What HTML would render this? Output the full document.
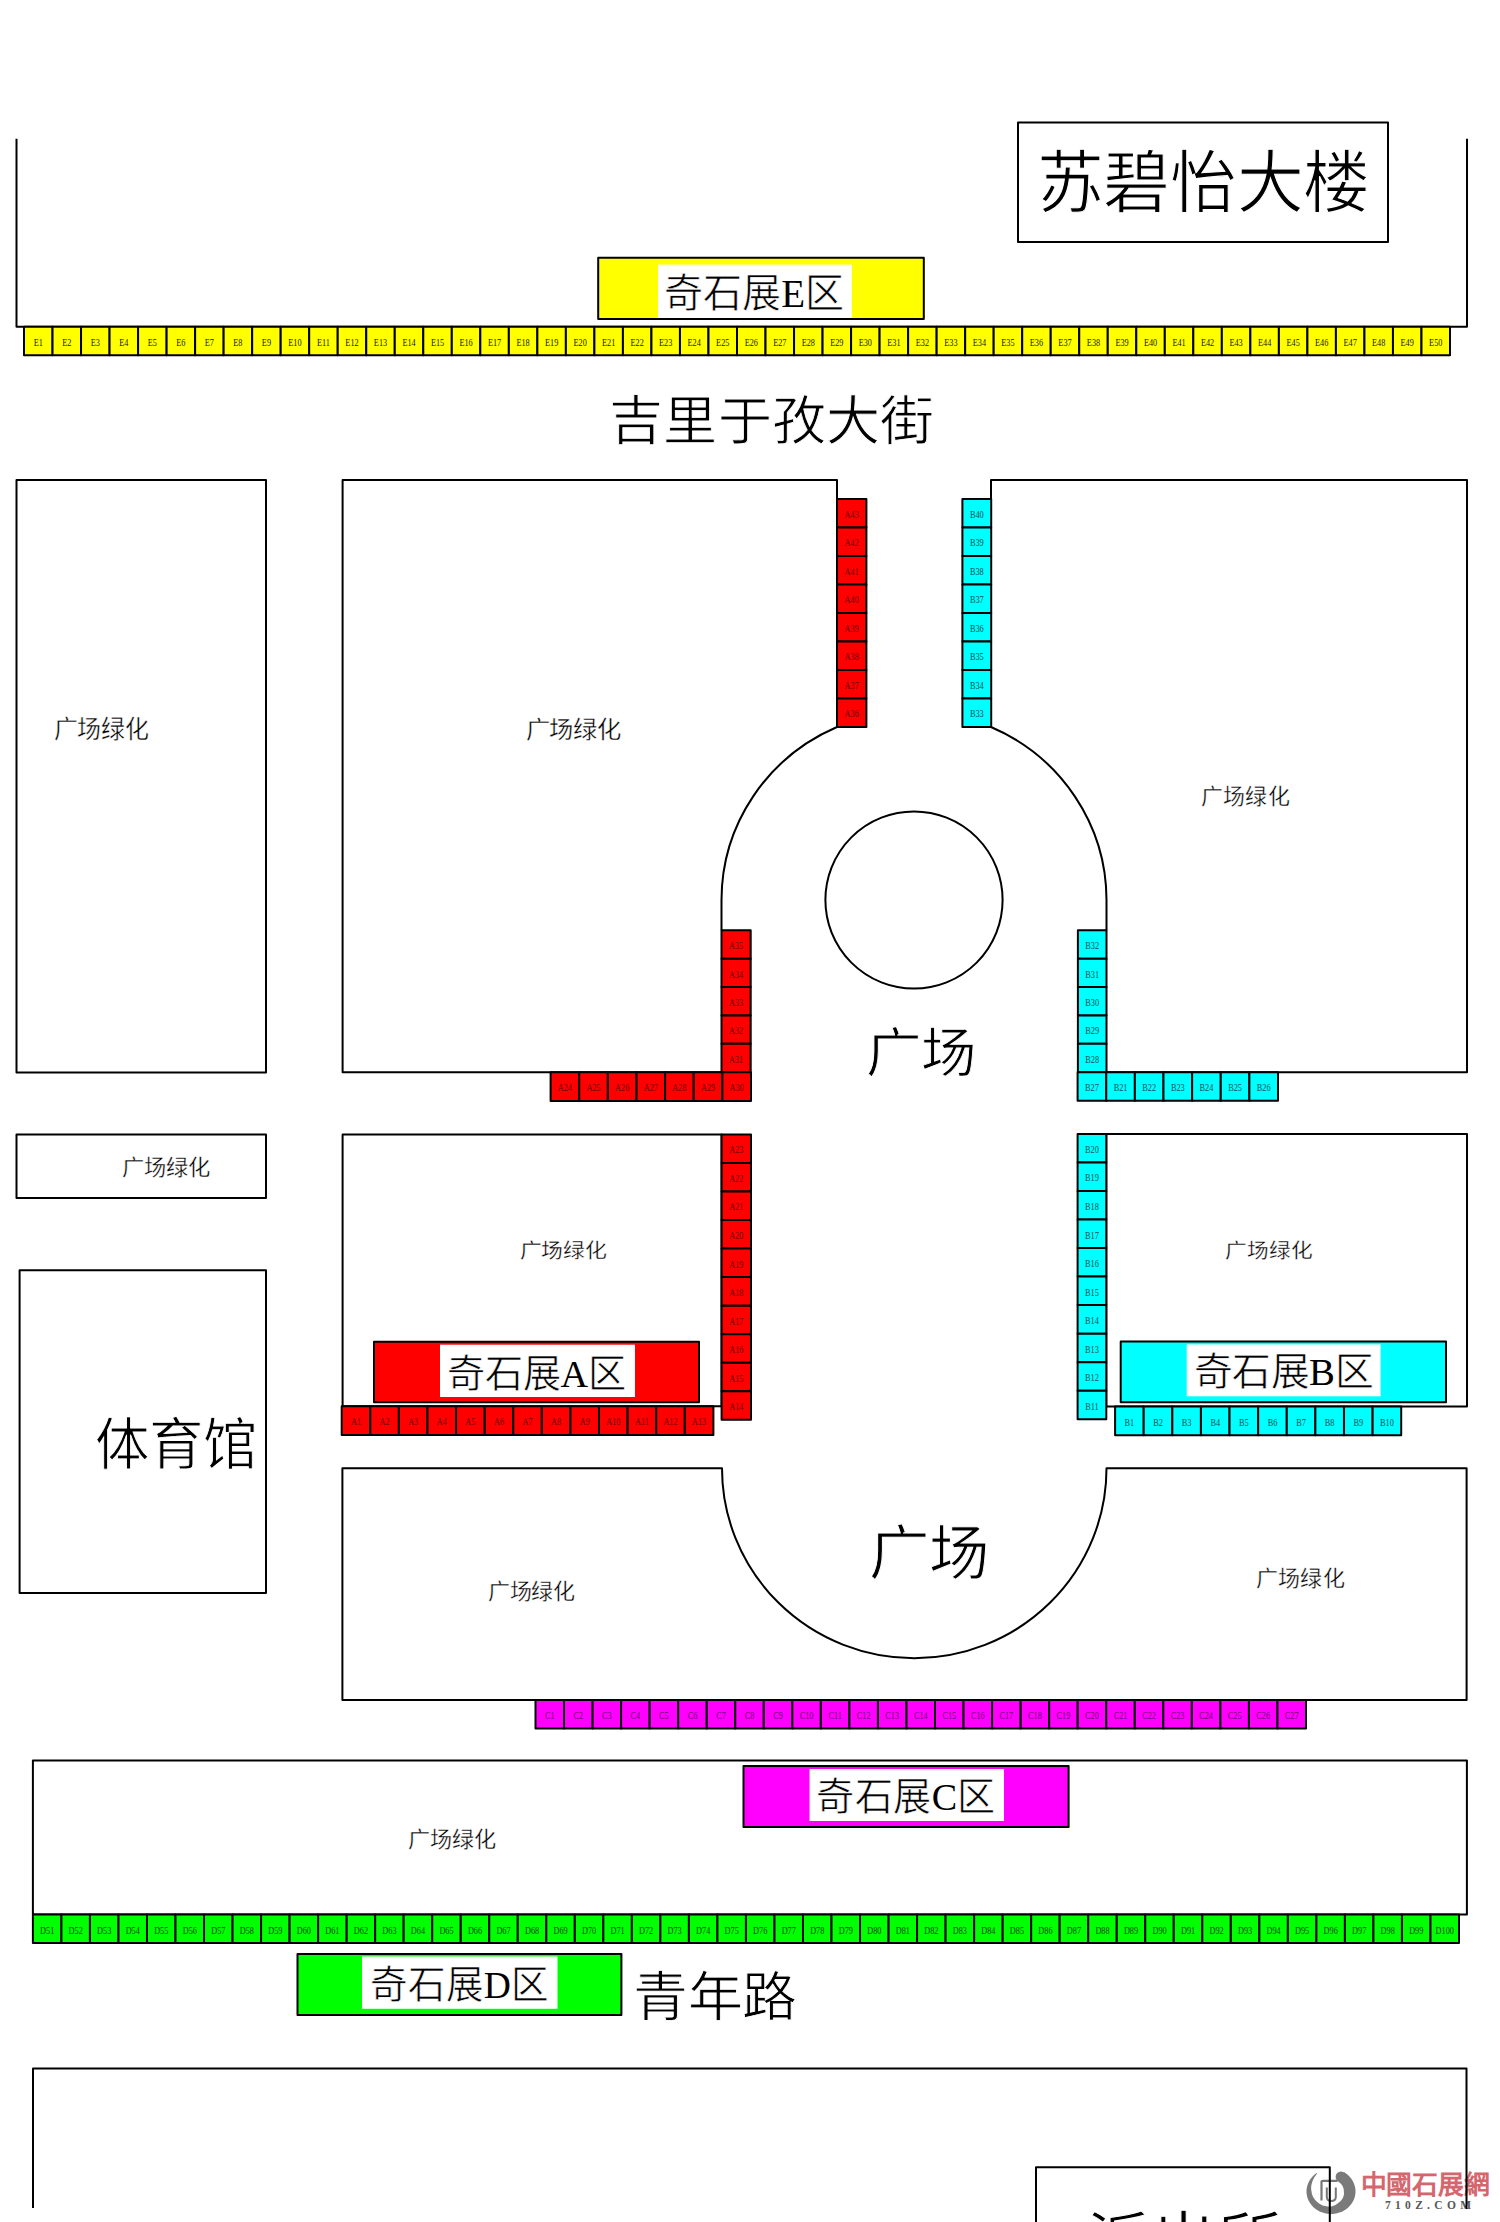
<!DOCTYPE html><html lang="zh-CN"><head><meta charset="utf-8"><title>map</title><style>html,body{margin:0;padding:0;background:#fff;width:1500px;height:2222px;overflow:hidden}svg{display:block;font-family:"Liberation Serif",serif}</style></head><body>
<svg width="1500" height="2222" viewBox="0 0 1500 2222">
<rect width="1500" height="2222" fill="#fff"/>
<path d="M1344.0 2172.2 L1345.4 2173.1 L1346.7 2174.1 L1348.0 2175.1 L1349.2 2176.3 L1350.3 2177.5 L1351.3 2178.8 L1352.2 2180.1 L1353.0 2181.5 L1353.7 2182.9 L1354.3 2184.4 L1354.8 2185.9 L1355.1 2187.5 L1355.4 2189.0 L1355.5 2190.6 L1355.5 2192.2 L1355.4 2193.8 L1355.1 2195.3 L1354.8 2196.9 L1354.3 2198.4 L1353.7 2199.9 L1353.0 2201.3 L1352.2 2202.7 L1351.3 2204.0 L1350.3 2205.3 L1349.2 2206.5 L1348.0 2207.7 L1346.7 2208.7 L1345.4 2209.7 L1344.0 2210.6 L1342.5 2211.4 L1341.0 2212.0 L1339.4 2212.6 L1337.8 2213.1 L1336.1 2213.5 L1334.4 2213.8 L1332.7 2213.9 L1331.0 2214.0 L1329.3 2213.9 L1327.6 2213.8 L1325.9 2213.5 L1324.2 2213.1 L1322.6 2212.6 L1321.0 2212.0 L1319.5 2211.4 L1318.0 2210.6 L1316.6 2209.7 L1315.3 2208.7 L1314.0 2207.7 L1312.8 2206.5 L1311.7 2205.3 L1310.7 2204.0 L1309.8 2202.7 L1309.0 2201.3 L1308.3 2199.9 L1307.7 2198.4 L1307.2 2196.9 L1306.9 2195.3 L1306.6 2193.8 L1306.5 2192.2 L1306.5 2190.6 L1306.6 2189.0 L1306.9 2187.5 L1307.2 2185.9 L1307.7 2184.4 L1308.3 2182.9 L1309.0 2181.5 L1309.8 2180.1 L1310.7 2178.8 L1311.7 2177.5 L1312.8 2176.3 L1314.0 2175.1 L1315.3 2174.1 L1316.6 2173.1 L1317.1 2173.8 L1316.0 2175.0 L1315.1 2176.3 L1314.2 2177.6 L1313.5 2178.9 L1312.9 2180.2 L1312.4 2181.6 L1311.9 2182.9 L1311.6 2184.3 L1311.3 2185.6 L1311.2 2186.9 L1311.1 2188.2 L1311.2 2189.5 L1311.4 2190.8 L1311.6 2192.0 L1311.8 2193.2 L1312.1 2194.4 L1312.5 2195.5 L1313.0 2196.7 L1313.6 2197.7 L1314.3 2198.7 L1315.0 2199.7 L1315.7 2200.6 L1316.6 2201.5 L1317.5 2202.3 L1318.4 2203.1 L1319.4 2203.7 L1320.5 2204.3 L1321.6 2204.9 L1322.7 2205.4 L1323.8 2205.7 L1325.0 2206.1 L1326.2 2206.3 L1327.4 2206.5 L1328.6 2206.6 L1329.8 2206.6 L1331.0 2206.5 L1332.2 2206.2 L1333.3 2205.8 L1334.4 2205.4 L1335.4 2204.9 L1336.4 2204.3 L1337.3 2203.7 L1338.1 2203.1 L1338.9 2202.4 L1339.7 2201.8 L1340.4 2201.2 L1341.1 2200.5 L1341.7 2199.7 L1342.2 2199.0 L1342.6 2198.2 L1343.0 2197.4 L1343.4 2196.6 L1343.6 2195.8 L1343.8 2195.0 L1343.9 2194.2 L1344.0 2193.4 L1343.9 2192.6 L1343.9 2191.8 L1343.8 2191.0 L1343.8 2190.3 L1343.7 2189.5 L1343.6 2188.7 L1343.3 2188.0 L1343.1 2187.2 L1342.8 2186.5 L1342.4 2185.8 L1341.9 2185.1 L1341.4 2184.4 L1340.9 2183.8 L1340.3 2183.2 L1339.6 2182.6 L1338.9 2182.1 L1338.2 2181.6 Z" fill="#7a7a7a"/>
<circle cx="1341.1" cy="2176.9" r="5.5" fill="#7a7a7a"/>
<path d="M1321.5 2200.5 V2181.5 Q1321.5 2180.8 1323 2180.8 H1337.5" fill="none" stroke="#777" stroke-width="2.2"/>
<path d="M1326.8 2187.5 V2197 Q1327 2201 1331.2 2201 Q1335.8 2201 1335.8 2197 V2187.5" fill="none" stroke="#777" stroke-width="2"/>
<text x="1360.5" y="2193.5" font-size="26" fill="#d4666e" font-weight="bold" textLength="129" lengthAdjust="spacingAndGlyphs">中國石展網</text>
<text x="1385" y="2208.8" font-size="11.5" fill="#585858" font-weight="bold" textLength="86" lengthAdjust="spacing">710Z.COM</text>
<g fill="none" stroke="#000" stroke-width="2" stroke-linejoin="round">
<path d="M16.5 138.7 V326.7 H1467 V138.7"/>
<rect x="1018" y="122.5" width="370" height="119.5"/>
<rect x="16.5" y="480" width="249.5" height="592.6"/>
<rect x="16.5" y="1134.5" width="249.5" height="63.5"/>
<rect x="19.6" y="1270.2" width="246.4" height="322.7"/>
<path d="M721.5 930.3 V900 A192.5 189 0 0 1 837 727 V480 H342.6 V1072.3 H721.5"/>
<path d="M1106.5 930.3 V900 A192.5 189 0 0 0 991 727 V480 H1467 V1072.2 H1106.5"/>
<circle cx="914" cy="900" r="88.6"/>
<rect x="342.6" y="1134.4" width="379" height="271.9"/>
<rect x="1106.3" y="1134" width="360.7" height="272.6"/>
<path d="M342.4 1468.2 H722 A192.25 190 0 0 0 1106.5 1468.2 H1466.6 V1700 H342.4 Z"/>
<rect x="32.9" y="1760.5" width="1434" height="154.1"/>
<path d="M33 2208 V2068.5 H1466.5 V2209"/>
<rect x="1036" y="2167.2" width="293.8" height="100"/>
</g>
<rect x="598.2" y="257.7" width="325.6" height="61.3" fill="#ffff00" stroke="#000" stroke-width="2" stroke-linejoin="round"/><rect x="658" y="264.6" width="193.8" height="53.4" fill="#fff"/>
<rect x="374" y="1341.8" width="325.0" height="60.4" fill="#ff0000" stroke="#000" stroke-width="2" stroke-linejoin="round"/><rect x="440" y="1344.7" width="195.0" height="52.3" fill="#fff"/>
<rect x="1120.7" y="1341.5" width="325.3" height="60.7" fill="#00ffff" stroke="#000" stroke-width="2" stroke-linejoin="round"/><rect x="1186.7" y="1344.4" width="193.9" height="51.9" fill="#fff"/>
<rect x="743.5" y="1766" width="325.1" height="61.0" fill="#ff00ff" stroke="#000" stroke-width="2" stroke-linejoin="round"/><rect x="809.5" y="1769" width="194.5" height="52.0" fill="#fff"/>
<rect x="297.5" y="1954" width="323.9" height="61.0" fill="#00ff00" stroke="#000" stroke-width="2" stroke-linejoin="round"/><rect x="362" y="1956.5" width="195.5" height="52.3" fill="#fff"/>
<rect x="24.00" y="326.70" width="28.52" height="28.50" fill="#ffff00" stroke="#000" stroke-width="2" stroke-linejoin="round"/>
<rect x="52.52" y="326.70" width="28.52" height="28.50" fill="#ffff00" stroke="#000" stroke-width="2" stroke-linejoin="round"/>
<rect x="81.04" y="326.70" width="28.52" height="28.50" fill="#ffff00" stroke="#000" stroke-width="2" stroke-linejoin="round"/>
<rect x="109.56" y="326.70" width="28.52" height="28.50" fill="#ffff00" stroke="#000" stroke-width="2" stroke-linejoin="round"/>
<rect x="138.08" y="326.70" width="28.52" height="28.50" fill="#ffff00" stroke="#000" stroke-width="2" stroke-linejoin="round"/>
<rect x="166.60" y="326.70" width="28.52" height="28.50" fill="#ffff00" stroke="#000" stroke-width="2" stroke-linejoin="round"/>
<rect x="195.12" y="326.70" width="28.52" height="28.50" fill="#ffff00" stroke="#000" stroke-width="2" stroke-linejoin="round"/>
<rect x="223.64" y="326.70" width="28.52" height="28.50" fill="#ffff00" stroke="#000" stroke-width="2" stroke-linejoin="round"/>
<rect x="252.16" y="326.70" width="28.52" height="28.50" fill="#ffff00" stroke="#000" stroke-width="2" stroke-linejoin="round"/>
<rect x="280.68" y="326.70" width="28.52" height="28.50" fill="#ffff00" stroke="#000" stroke-width="2" stroke-linejoin="round"/>
<rect x="309.20" y="326.70" width="28.52" height="28.50" fill="#ffff00" stroke="#000" stroke-width="2" stroke-linejoin="round"/>
<rect x="337.72" y="326.70" width="28.52" height="28.50" fill="#ffff00" stroke="#000" stroke-width="2" stroke-linejoin="round"/>
<rect x="366.24" y="326.70" width="28.52" height="28.50" fill="#ffff00" stroke="#000" stroke-width="2" stroke-linejoin="round"/>
<rect x="394.76" y="326.70" width="28.52" height="28.50" fill="#ffff00" stroke="#000" stroke-width="2" stroke-linejoin="round"/>
<rect x="423.28" y="326.70" width="28.52" height="28.50" fill="#ffff00" stroke="#000" stroke-width="2" stroke-linejoin="round"/>
<rect x="451.80" y="326.70" width="28.52" height="28.50" fill="#ffff00" stroke="#000" stroke-width="2" stroke-linejoin="round"/>
<rect x="480.32" y="326.70" width="28.52" height="28.50" fill="#ffff00" stroke="#000" stroke-width="2" stroke-linejoin="round"/>
<rect x="508.84" y="326.70" width="28.52" height="28.50" fill="#ffff00" stroke="#000" stroke-width="2" stroke-linejoin="round"/>
<rect x="537.36" y="326.70" width="28.52" height="28.50" fill="#ffff00" stroke="#000" stroke-width="2" stroke-linejoin="round"/>
<rect x="565.88" y="326.70" width="28.52" height="28.50" fill="#ffff00" stroke="#000" stroke-width="2" stroke-linejoin="round"/>
<rect x="594.40" y="326.70" width="28.52" height="28.50" fill="#ffff00" stroke="#000" stroke-width="2" stroke-linejoin="round"/>
<rect x="622.92" y="326.70" width="28.52" height="28.50" fill="#ffff00" stroke="#000" stroke-width="2" stroke-linejoin="round"/>
<rect x="651.44" y="326.70" width="28.52" height="28.50" fill="#ffff00" stroke="#000" stroke-width="2" stroke-linejoin="round"/>
<rect x="679.96" y="326.70" width="28.52" height="28.50" fill="#ffff00" stroke="#000" stroke-width="2" stroke-linejoin="round"/>
<rect x="708.48" y="326.70" width="28.52" height="28.50" fill="#ffff00" stroke="#000" stroke-width="2" stroke-linejoin="round"/>
<rect x="737.00" y="326.70" width="28.52" height="28.50" fill="#ffff00" stroke="#000" stroke-width="2" stroke-linejoin="round"/>
<rect x="765.52" y="326.70" width="28.52" height="28.50" fill="#ffff00" stroke="#000" stroke-width="2" stroke-linejoin="round"/>
<rect x="794.04" y="326.70" width="28.52" height="28.50" fill="#ffff00" stroke="#000" stroke-width="2" stroke-linejoin="round"/>
<rect x="822.56" y="326.70" width="28.52" height="28.50" fill="#ffff00" stroke="#000" stroke-width="2" stroke-linejoin="round"/>
<rect x="851.08" y="326.70" width="28.52" height="28.50" fill="#ffff00" stroke="#000" stroke-width="2" stroke-linejoin="round"/>
<rect x="879.60" y="326.70" width="28.52" height="28.50" fill="#ffff00" stroke="#000" stroke-width="2" stroke-linejoin="round"/>
<rect x="908.12" y="326.70" width="28.52" height="28.50" fill="#ffff00" stroke="#000" stroke-width="2" stroke-linejoin="round"/>
<rect x="936.64" y="326.70" width="28.52" height="28.50" fill="#ffff00" stroke="#000" stroke-width="2" stroke-linejoin="round"/>
<rect x="965.16" y="326.70" width="28.52" height="28.50" fill="#ffff00" stroke="#000" stroke-width="2" stroke-linejoin="round"/>
<rect x="993.68" y="326.70" width="28.52" height="28.50" fill="#ffff00" stroke="#000" stroke-width="2" stroke-linejoin="round"/>
<rect x="1022.20" y="326.70" width="28.52" height="28.50" fill="#ffff00" stroke="#000" stroke-width="2" stroke-linejoin="round"/>
<rect x="1050.72" y="326.70" width="28.52" height="28.50" fill="#ffff00" stroke="#000" stroke-width="2" stroke-linejoin="round"/>
<rect x="1079.24" y="326.70" width="28.52" height="28.50" fill="#ffff00" stroke="#000" stroke-width="2" stroke-linejoin="round"/>
<rect x="1107.76" y="326.70" width="28.52" height="28.50" fill="#ffff00" stroke="#000" stroke-width="2" stroke-linejoin="round"/>
<rect x="1136.28" y="326.70" width="28.52" height="28.50" fill="#ffff00" stroke="#000" stroke-width="2" stroke-linejoin="round"/>
<rect x="1164.80" y="326.70" width="28.52" height="28.50" fill="#ffff00" stroke="#000" stroke-width="2" stroke-linejoin="round"/>
<rect x="1193.32" y="326.70" width="28.52" height="28.50" fill="#ffff00" stroke="#000" stroke-width="2" stroke-linejoin="round"/>
<rect x="1221.84" y="326.70" width="28.52" height="28.50" fill="#ffff00" stroke="#000" stroke-width="2" stroke-linejoin="round"/>
<rect x="1250.36" y="326.70" width="28.52" height="28.50" fill="#ffff00" stroke="#000" stroke-width="2" stroke-linejoin="round"/>
<rect x="1278.88" y="326.70" width="28.52" height="28.50" fill="#ffff00" stroke="#000" stroke-width="2" stroke-linejoin="round"/>
<rect x="1307.40" y="326.70" width="28.52" height="28.50" fill="#ffff00" stroke="#000" stroke-width="2" stroke-linejoin="round"/>
<rect x="1335.92" y="326.70" width="28.52" height="28.50" fill="#ffff00" stroke="#000" stroke-width="2" stroke-linejoin="round"/>
<rect x="1364.44" y="326.70" width="28.52" height="28.50" fill="#ffff00" stroke="#000" stroke-width="2" stroke-linejoin="round"/>
<rect x="1392.96" y="326.70" width="28.52" height="28.50" fill="#ffff00" stroke="#000" stroke-width="2" stroke-linejoin="round"/>
<rect x="1421.48" y="326.70" width="28.52" height="28.50" fill="#ffff00" stroke="#000" stroke-width="2" stroke-linejoin="round"/>
<text transform="translate(38.26,345.65) scale(0.73,1)" fill="#1a1800" font-size="11.3" text-anchor="middle">E1</text>
<text transform="translate(66.78,345.65) scale(0.73,1)" fill="#1a1800" font-size="11.3" text-anchor="middle">E2</text>
<text transform="translate(95.30,345.65) scale(0.73,1)" fill="#1a1800" font-size="11.3" text-anchor="middle">E3</text>
<text transform="translate(123.82,345.65) scale(0.73,1)" fill="#1a1800" font-size="11.3" text-anchor="middle">E4</text>
<text transform="translate(152.34,345.65) scale(0.73,1)" fill="#1a1800" font-size="11.3" text-anchor="middle">E5</text>
<text transform="translate(180.86,345.65) scale(0.73,1)" fill="#1a1800" font-size="11.3" text-anchor="middle">E6</text>
<text transform="translate(209.38,345.65) scale(0.73,1)" fill="#1a1800" font-size="11.3" text-anchor="middle">E7</text>
<text transform="translate(237.90,345.65) scale(0.73,1)" fill="#1a1800" font-size="11.3" text-anchor="middle">E8</text>
<text transform="translate(266.42,345.65) scale(0.73,1)" fill="#1a1800" font-size="11.3" text-anchor="middle">E9</text>
<text transform="translate(294.94,345.65) scale(0.73,1)" fill="#1a1800" font-size="11.3" text-anchor="middle">E10</text>
<text transform="translate(323.46,345.65) scale(0.73,1)" fill="#1a1800" font-size="11.3" text-anchor="middle">E11</text>
<text transform="translate(351.98,345.65) scale(0.73,1)" fill="#1a1800" font-size="11.3" text-anchor="middle">E12</text>
<text transform="translate(380.50,345.65) scale(0.73,1)" fill="#1a1800" font-size="11.3" text-anchor="middle">E13</text>
<text transform="translate(409.02,345.65) scale(0.73,1)" fill="#1a1800" font-size="11.3" text-anchor="middle">E14</text>
<text transform="translate(437.54,345.65) scale(0.73,1)" fill="#1a1800" font-size="11.3" text-anchor="middle">E15</text>
<text transform="translate(466.06,345.65) scale(0.73,1)" fill="#1a1800" font-size="11.3" text-anchor="middle">E16</text>
<text transform="translate(494.58,345.65) scale(0.73,1)" fill="#1a1800" font-size="11.3" text-anchor="middle">E17</text>
<text transform="translate(523.10,345.65) scale(0.73,1)" fill="#1a1800" font-size="11.3" text-anchor="middle">E18</text>
<text transform="translate(551.62,345.65) scale(0.73,1)" fill="#1a1800" font-size="11.3" text-anchor="middle">E19</text>
<text transform="translate(580.14,345.65) scale(0.73,1)" fill="#1a1800" font-size="11.3" text-anchor="middle">E20</text>
<text transform="translate(608.66,345.65) scale(0.73,1)" fill="#1a1800" font-size="11.3" text-anchor="middle">E21</text>
<text transform="translate(637.18,345.65) scale(0.73,1)" fill="#1a1800" font-size="11.3" text-anchor="middle">E22</text>
<text transform="translate(665.70,345.65) scale(0.73,1)" fill="#1a1800" font-size="11.3" text-anchor="middle">E23</text>
<text transform="translate(694.22,345.65) scale(0.73,1)" fill="#1a1800" font-size="11.3" text-anchor="middle">E24</text>
<text transform="translate(722.74,345.65) scale(0.73,1)" fill="#1a1800" font-size="11.3" text-anchor="middle">E25</text>
<text transform="translate(751.26,345.65) scale(0.73,1)" fill="#1a1800" font-size="11.3" text-anchor="middle">E26</text>
<text transform="translate(779.78,345.65) scale(0.73,1)" fill="#1a1800" font-size="11.3" text-anchor="middle">E27</text>
<text transform="translate(808.30,345.65) scale(0.73,1)" fill="#1a1800" font-size="11.3" text-anchor="middle">E28</text>
<text transform="translate(836.82,345.65) scale(0.73,1)" fill="#1a1800" font-size="11.3" text-anchor="middle">E29</text>
<text transform="translate(865.34,345.65) scale(0.73,1)" fill="#1a1800" font-size="11.3" text-anchor="middle">E30</text>
<text transform="translate(893.86,345.65) scale(0.73,1)" fill="#1a1800" font-size="11.3" text-anchor="middle">E31</text>
<text transform="translate(922.38,345.65) scale(0.73,1)" fill="#1a1800" font-size="11.3" text-anchor="middle">E32</text>
<text transform="translate(950.90,345.65) scale(0.73,1)" fill="#1a1800" font-size="11.3" text-anchor="middle">E33</text>
<text transform="translate(979.42,345.65) scale(0.73,1)" fill="#1a1800" font-size="11.3" text-anchor="middle">E34</text>
<text transform="translate(1007.94,345.65) scale(0.73,1)" fill="#1a1800" font-size="11.3" text-anchor="middle">E35</text>
<text transform="translate(1036.46,345.65) scale(0.73,1)" fill="#1a1800" font-size="11.3" text-anchor="middle">E36</text>
<text transform="translate(1064.98,345.65) scale(0.73,1)" fill="#1a1800" font-size="11.3" text-anchor="middle">E37</text>
<text transform="translate(1093.50,345.65) scale(0.73,1)" fill="#1a1800" font-size="11.3" text-anchor="middle">E38</text>
<text transform="translate(1122.02,345.65) scale(0.73,1)" fill="#1a1800" font-size="11.3" text-anchor="middle">E39</text>
<text transform="translate(1150.54,345.65) scale(0.73,1)" fill="#1a1800" font-size="11.3" text-anchor="middle">E40</text>
<text transform="translate(1179.06,345.65) scale(0.73,1)" fill="#1a1800" font-size="11.3" text-anchor="middle">E41</text>
<text transform="translate(1207.58,345.65) scale(0.73,1)" fill="#1a1800" font-size="11.3" text-anchor="middle">E42</text>
<text transform="translate(1236.10,345.65) scale(0.73,1)" fill="#1a1800" font-size="11.3" text-anchor="middle">E43</text>
<text transform="translate(1264.62,345.65) scale(0.73,1)" fill="#1a1800" font-size="11.3" text-anchor="middle">E44</text>
<text transform="translate(1293.14,345.65) scale(0.73,1)" fill="#1a1800" font-size="11.3" text-anchor="middle">E45</text>
<text transform="translate(1321.66,345.65) scale(0.73,1)" fill="#1a1800" font-size="11.3" text-anchor="middle">E46</text>
<text transform="translate(1350.18,345.65) scale(0.73,1)" fill="#1a1800" font-size="11.3" text-anchor="middle">E47</text>
<text transform="translate(1378.70,345.65) scale(0.73,1)" fill="#1a1800" font-size="11.3" text-anchor="middle">E48</text>
<text transform="translate(1407.22,345.65) scale(0.73,1)" fill="#1a1800" font-size="11.3" text-anchor="middle">E49</text>
<text transform="translate(1435.74,345.65) scale(0.73,1)" fill="#1a1800" font-size="11.3" text-anchor="middle">E50</text>
<rect x="837.00" y="499.00" width="29.40" height="28.50" fill="#ff0000" stroke="#000" stroke-width="2" stroke-linejoin="round"/>
<rect x="837.00" y="527.50" width="29.40" height="28.50" fill="#ff0000" stroke="#000" stroke-width="2" stroke-linejoin="round"/>
<rect x="837.00" y="556.00" width="29.40" height="28.50" fill="#ff0000" stroke="#000" stroke-width="2" stroke-linejoin="round"/>
<rect x="837.00" y="584.50" width="29.40" height="28.50" fill="#ff0000" stroke="#000" stroke-width="2" stroke-linejoin="round"/>
<rect x="837.00" y="613.00" width="29.40" height="28.50" fill="#ff0000" stroke="#000" stroke-width="2" stroke-linejoin="round"/>
<rect x="837.00" y="641.50" width="29.40" height="28.50" fill="#ff0000" stroke="#000" stroke-width="2" stroke-linejoin="round"/>
<rect x="837.00" y="670.00" width="29.40" height="28.50" fill="#ff0000" stroke="#000" stroke-width="2" stroke-linejoin="round"/>
<rect x="837.00" y="698.50" width="29.40" height="28.50" fill="#ff0000" stroke="#000" stroke-width="2" stroke-linejoin="round"/>
<text transform="translate(851.70,517.95) scale(0.73,1)" fill="#6a0000" font-size="11.3" text-anchor="middle">A43</text>
<text transform="translate(851.70,546.45) scale(0.73,1)" fill="#6a0000" font-size="11.3" text-anchor="middle">A42</text>
<text transform="translate(851.70,574.95) scale(0.73,1)" fill="#6a0000" font-size="11.3" text-anchor="middle">A41</text>
<text transform="translate(851.70,603.45) scale(0.73,1)" fill="#6a0000" font-size="11.3" text-anchor="middle">A40</text>
<text transform="translate(851.70,631.95) scale(0.73,1)" fill="#6a0000" font-size="11.3" text-anchor="middle">A39</text>
<text transform="translate(851.70,660.45) scale(0.73,1)" fill="#6a0000" font-size="11.3" text-anchor="middle">A38</text>
<text transform="translate(851.70,688.95) scale(0.73,1)" fill="#6a0000" font-size="11.3" text-anchor="middle">A37</text>
<text transform="translate(851.70,717.45) scale(0.73,1)" fill="#6a0000" font-size="11.3" text-anchor="middle">A36</text>
<rect x="962.40" y="499.00" width="28.80" height="28.50" fill="#00ffff" stroke="#000" stroke-width="2" stroke-linejoin="round"/>
<rect x="962.40" y="527.50" width="28.80" height="28.50" fill="#00ffff" stroke="#000" stroke-width="2" stroke-linejoin="round"/>
<rect x="962.40" y="556.00" width="28.80" height="28.50" fill="#00ffff" stroke="#000" stroke-width="2" stroke-linejoin="round"/>
<rect x="962.40" y="584.50" width="28.80" height="28.50" fill="#00ffff" stroke="#000" stroke-width="2" stroke-linejoin="round"/>
<rect x="962.40" y="613.00" width="28.80" height="28.50" fill="#00ffff" stroke="#000" stroke-width="2" stroke-linejoin="round"/>
<rect x="962.40" y="641.50" width="28.80" height="28.50" fill="#00ffff" stroke="#000" stroke-width="2" stroke-linejoin="round"/>
<rect x="962.40" y="670.00" width="28.80" height="28.50" fill="#00ffff" stroke="#000" stroke-width="2" stroke-linejoin="round"/>
<rect x="962.40" y="698.50" width="28.80" height="28.50" fill="#00ffff" stroke="#000" stroke-width="2" stroke-linejoin="round"/>
<text transform="translate(976.80,517.95) scale(0.73,1)" fill="#004e4e" font-size="11.3" text-anchor="middle">B40</text>
<text transform="translate(976.80,546.45) scale(0.73,1)" fill="#004e4e" font-size="11.3" text-anchor="middle">B39</text>
<text transform="translate(976.80,574.95) scale(0.73,1)" fill="#004e4e" font-size="11.3" text-anchor="middle">B38</text>
<text transform="translate(976.80,603.45) scale(0.73,1)" fill="#004e4e" font-size="11.3" text-anchor="middle">B37</text>
<text transform="translate(976.80,631.95) scale(0.73,1)" fill="#004e4e" font-size="11.3" text-anchor="middle">B36</text>
<text transform="translate(976.80,660.45) scale(0.73,1)" fill="#004e4e" font-size="11.3" text-anchor="middle">B35</text>
<text transform="translate(976.80,688.95) scale(0.73,1)" fill="#004e4e" font-size="11.3" text-anchor="middle">B34</text>
<text transform="translate(976.80,717.45) scale(0.73,1)" fill="#004e4e" font-size="11.3" text-anchor="middle">B33</text>
<rect x="721.50" y="930.30" width="29.20" height="28.38" fill="#ff0000" stroke="#000" stroke-width="2" stroke-linejoin="round"/>
<rect x="721.50" y="958.68" width="29.20" height="28.38" fill="#ff0000" stroke="#000" stroke-width="2" stroke-linejoin="round"/>
<rect x="721.50" y="987.06" width="29.20" height="28.38" fill="#ff0000" stroke="#000" stroke-width="2" stroke-linejoin="round"/>
<rect x="721.50" y="1015.44" width="29.20" height="28.38" fill="#ff0000" stroke="#000" stroke-width="2" stroke-linejoin="round"/>
<rect x="721.50" y="1043.82" width="29.20" height="28.38" fill="#ff0000" stroke="#000" stroke-width="2" stroke-linejoin="round"/>
<text transform="translate(736.10,949.19) scale(0.73,1)" fill="#6a0000" font-size="11.3" text-anchor="middle">A35</text>
<text transform="translate(736.10,977.57) scale(0.73,1)" fill="#6a0000" font-size="11.3" text-anchor="middle">A34</text>
<text transform="translate(736.10,1005.95) scale(0.73,1)" fill="#6a0000" font-size="11.3" text-anchor="middle">A33</text>
<text transform="translate(736.10,1034.33) scale(0.73,1)" fill="#6a0000" font-size="11.3" text-anchor="middle">A32</text>
<text transform="translate(736.10,1062.71) scale(0.73,1)" fill="#6a0000" font-size="11.3" text-anchor="middle">A31</text>
<rect x="550.60" y="1072.20" width="28.63" height="28.80" fill="#ff0000" stroke="#000" stroke-width="2" stroke-linejoin="round"/>
<rect x="579.23" y="1072.20" width="28.63" height="28.80" fill="#ff0000" stroke="#000" stroke-width="2" stroke-linejoin="round"/>
<rect x="607.86" y="1072.20" width="28.63" height="28.80" fill="#ff0000" stroke="#000" stroke-width="2" stroke-linejoin="round"/>
<rect x="636.49" y="1072.20" width="28.63" height="28.80" fill="#ff0000" stroke="#000" stroke-width="2" stroke-linejoin="round"/>
<rect x="665.11" y="1072.20" width="28.63" height="28.80" fill="#ff0000" stroke="#000" stroke-width="2" stroke-linejoin="round"/>
<rect x="693.74" y="1072.20" width="28.63" height="28.80" fill="#ff0000" stroke="#000" stroke-width="2" stroke-linejoin="round"/>
<rect x="722.37" y="1072.20" width="28.63" height="28.80" fill="#ff0000" stroke="#000" stroke-width="2" stroke-linejoin="round"/>
<text transform="translate(564.91,1091.30) scale(0.73,1)" fill="#6a0000" font-size="11.3" text-anchor="middle">A24</text>
<text transform="translate(593.54,1091.30) scale(0.73,1)" fill="#6a0000" font-size="11.3" text-anchor="middle">A25</text>
<text transform="translate(622.17,1091.30) scale(0.73,1)" fill="#6a0000" font-size="11.3" text-anchor="middle">A26</text>
<text transform="translate(650.80,1091.30) scale(0.73,1)" fill="#6a0000" font-size="11.3" text-anchor="middle">A27</text>
<text transform="translate(679.43,1091.30) scale(0.73,1)" fill="#6a0000" font-size="11.3" text-anchor="middle">A28</text>
<text transform="translate(708.06,1091.30) scale(0.73,1)" fill="#6a0000" font-size="11.3" text-anchor="middle">A29</text>
<text transform="translate(736.69,1091.30) scale(0.73,1)" fill="#6a0000" font-size="11.3" text-anchor="middle">A30</text>
<rect x="1077.90" y="930.30" width="28.60" height="28.38" fill="#00ffff" stroke="#000" stroke-width="2" stroke-linejoin="round"/>
<rect x="1077.90" y="958.68" width="28.60" height="28.38" fill="#00ffff" stroke="#000" stroke-width="2" stroke-linejoin="round"/>
<rect x="1077.90" y="987.06" width="28.60" height="28.38" fill="#00ffff" stroke="#000" stroke-width="2" stroke-linejoin="round"/>
<rect x="1077.90" y="1015.44" width="28.60" height="28.38" fill="#00ffff" stroke="#000" stroke-width="2" stroke-linejoin="round"/>
<rect x="1077.90" y="1043.82" width="28.60" height="28.38" fill="#00ffff" stroke="#000" stroke-width="2" stroke-linejoin="round"/>
<text transform="translate(1092.20,949.19) scale(0.73,1)" fill="#004e4e" font-size="11.3" text-anchor="middle">B32</text>
<text transform="translate(1092.20,977.57) scale(0.73,1)" fill="#004e4e" font-size="11.3" text-anchor="middle">B31</text>
<text transform="translate(1092.20,1005.95) scale(0.73,1)" fill="#004e4e" font-size="11.3" text-anchor="middle">B30</text>
<text transform="translate(1092.20,1034.33) scale(0.73,1)" fill="#004e4e" font-size="11.3" text-anchor="middle">B29</text>
<text transform="translate(1092.20,1062.71) scale(0.73,1)" fill="#004e4e" font-size="11.3" text-anchor="middle">B28</text>
<rect x="1077.60" y="1072.20" width="28.63" height="28.50" fill="#00ffff" stroke="#000" stroke-width="2" stroke-linejoin="round"/>
<rect x="1106.23" y="1072.20" width="28.63" height="28.50" fill="#00ffff" stroke="#000" stroke-width="2" stroke-linejoin="round"/>
<rect x="1134.86" y="1072.20" width="28.63" height="28.50" fill="#00ffff" stroke="#000" stroke-width="2" stroke-linejoin="round"/>
<rect x="1163.49" y="1072.20" width="28.63" height="28.50" fill="#00ffff" stroke="#000" stroke-width="2" stroke-linejoin="round"/>
<rect x="1192.11" y="1072.20" width="28.63" height="28.50" fill="#00ffff" stroke="#000" stroke-width="2" stroke-linejoin="round"/>
<rect x="1220.74" y="1072.20" width="28.63" height="28.50" fill="#00ffff" stroke="#000" stroke-width="2" stroke-linejoin="round"/>
<rect x="1249.37" y="1072.20" width="28.63" height="28.50" fill="#00ffff" stroke="#000" stroke-width="2" stroke-linejoin="round"/>
<text transform="translate(1091.91,1091.15) scale(0.73,1)" fill="#004e4e" font-size="11.3" text-anchor="middle">B27</text>
<text transform="translate(1120.54,1091.15) scale(0.73,1)" fill="#004e4e" font-size="11.3" text-anchor="middle">B21</text>
<text transform="translate(1149.17,1091.15) scale(0.73,1)" fill="#004e4e" font-size="11.3" text-anchor="middle">B22</text>
<text transform="translate(1177.80,1091.15) scale(0.73,1)" fill="#004e4e" font-size="11.3" text-anchor="middle">B23</text>
<text transform="translate(1206.43,1091.15) scale(0.73,1)" fill="#004e4e" font-size="11.3" text-anchor="middle">B24</text>
<text transform="translate(1235.06,1091.15) scale(0.73,1)" fill="#004e4e" font-size="11.3" text-anchor="middle">B25</text>
<text transform="translate(1263.69,1091.15) scale(0.73,1)" fill="#004e4e" font-size="11.3" text-anchor="middle">B26</text>
<rect x="721.60" y="1134.40" width="29.40" height="28.54" fill="#ff0000" stroke="#000" stroke-width="2" stroke-linejoin="round"/>
<rect x="721.60" y="1162.94" width="29.40" height="28.54" fill="#ff0000" stroke="#000" stroke-width="2" stroke-linejoin="round"/>
<rect x="721.60" y="1191.48" width="29.40" height="28.54" fill="#ff0000" stroke="#000" stroke-width="2" stroke-linejoin="round"/>
<rect x="721.60" y="1220.02" width="29.40" height="28.54" fill="#ff0000" stroke="#000" stroke-width="2" stroke-linejoin="round"/>
<rect x="721.60" y="1248.56" width="29.40" height="28.54" fill="#ff0000" stroke="#000" stroke-width="2" stroke-linejoin="round"/>
<rect x="721.60" y="1277.10" width="29.40" height="28.54" fill="#ff0000" stroke="#000" stroke-width="2" stroke-linejoin="round"/>
<rect x="721.60" y="1305.64" width="29.40" height="28.54" fill="#ff0000" stroke="#000" stroke-width="2" stroke-linejoin="round"/>
<rect x="721.60" y="1334.18" width="29.40" height="28.54" fill="#ff0000" stroke="#000" stroke-width="2" stroke-linejoin="round"/>
<rect x="721.60" y="1362.72" width="29.40" height="28.54" fill="#ff0000" stroke="#000" stroke-width="2" stroke-linejoin="round"/>
<rect x="721.60" y="1391.26" width="29.40" height="28.54" fill="#ff0000" stroke="#000" stroke-width="2" stroke-linejoin="round"/>
<text transform="translate(736.30,1153.37) scale(0.73,1)" fill="#6a0000" font-size="11.3" text-anchor="middle">A23</text>
<text transform="translate(736.30,1181.91) scale(0.73,1)" fill="#6a0000" font-size="11.3" text-anchor="middle">A22</text>
<text transform="translate(736.30,1210.45) scale(0.73,1)" fill="#6a0000" font-size="11.3" text-anchor="middle">A21</text>
<text transform="translate(736.30,1238.99) scale(0.73,1)" fill="#6a0000" font-size="11.3" text-anchor="middle">A20</text>
<text transform="translate(736.30,1267.53) scale(0.73,1)" fill="#6a0000" font-size="11.3" text-anchor="middle">A19</text>
<text transform="translate(736.30,1296.07) scale(0.73,1)" fill="#6a0000" font-size="11.3" text-anchor="middle">A18</text>
<text transform="translate(736.30,1324.61) scale(0.73,1)" fill="#6a0000" font-size="11.3" text-anchor="middle">A17</text>
<text transform="translate(736.30,1353.15) scale(0.73,1)" fill="#6a0000" font-size="11.3" text-anchor="middle">A16</text>
<text transform="translate(736.30,1381.69) scale(0.73,1)" fill="#6a0000" font-size="11.3" text-anchor="middle">A15</text>
<text transform="translate(736.30,1410.23) scale(0.73,1)" fill="#6a0000" font-size="11.3" text-anchor="middle">A14</text>
<rect x="341.70" y="1406.30" width="28.59" height="28.70" fill="#ff0000" stroke="#000" stroke-width="2" stroke-linejoin="round"/>
<rect x="370.29" y="1406.30" width="28.59" height="28.70" fill="#ff0000" stroke="#000" stroke-width="2" stroke-linejoin="round"/>
<rect x="398.88" y="1406.30" width="28.59" height="28.70" fill="#ff0000" stroke="#000" stroke-width="2" stroke-linejoin="round"/>
<rect x="427.48" y="1406.30" width="28.59" height="28.70" fill="#ff0000" stroke="#000" stroke-width="2" stroke-linejoin="round"/>
<rect x="456.07" y="1406.30" width="28.59" height="28.70" fill="#ff0000" stroke="#000" stroke-width="2" stroke-linejoin="round"/>
<rect x="484.66" y="1406.30" width="28.59" height="28.70" fill="#ff0000" stroke="#000" stroke-width="2" stroke-linejoin="round"/>
<rect x="513.25" y="1406.30" width="28.59" height="28.70" fill="#ff0000" stroke="#000" stroke-width="2" stroke-linejoin="round"/>
<rect x="541.85" y="1406.30" width="28.59" height="28.70" fill="#ff0000" stroke="#000" stroke-width="2" stroke-linejoin="round"/>
<rect x="570.44" y="1406.30" width="28.59" height="28.70" fill="#ff0000" stroke="#000" stroke-width="2" stroke-linejoin="round"/>
<rect x="599.03" y="1406.30" width="28.59" height="28.70" fill="#ff0000" stroke="#000" stroke-width="2" stroke-linejoin="round"/>
<rect x="627.62" y="1406.30" width="28.59" height="28.70" fill="#ff0000" stroke="#000" stroke-width="2" stroke-linejoin="round"/>
<rect x="656.22" y="1406.30" width="28.59" height="28.70" fill="#ff0000" stroke="#000" stroke-width="2" stroke-linejoin="round"/>
<rect x="684.81" y="1406.30" width="28.59" height="28.70" fill="#ff0000" stroke="#000" stroke-width="2" stroke-linejoin="round"/>
<text transform="translate(356.00,1425.35) scale(0.73,1)" fill="#6a0000" font-size="11.3" text-anchor="middle">A1</text>
<text transform="translate(384.59,1425.35) scale(0.73,1)" fill="#6a0000" font-size="11.3" text-anchor="middle">A2</text>
<text transform="translate(413.18,1425.35) scale(0.73,1)" fill="#6a0000" font-size="11.3" text-anchor="middle">A3</text>
<text transform="translate(441.77,1425.35) scale(0.73,1)" fill="#6a0000" font-size="11.3" text-anchor="middle">A4</text>
<text transform="translate(470.37,1425.35) scale(0.73,1)" fill="#6a0000" font-size="11.3" text-anchor="middle">A5</text>
<text transform="translate(498.96,1425.35) scale(0.73,1)" fill="#6a0000" font-size="11.3" text-anchor="middle">A6</text>
<text transform="translate(527.55,1425.35) scale(0.73,1)" fill="#6a0000" font-size="11.3" text-anchor="middle">A7</text>
<text transform="translate(556.14,1425.35) scale(0.73,1)" fill="#6a0000" font-size="11.3" text-anchor="middle">A8</text>
<text transform="translate(584.73,1425.35) scale(0.73,1)" fill="#6a0000" font-size="11.3" text-anchor="middle">A9</text>
<text transform="translate(613.33,1425.35) scale(0.73,1)" fill="#6a0000" font-size="11.3" text-anchor="middle">A10</text>
<text transform="translate(641.92,1425.35) scale(0.73,1)" fill="#6a0000" font-size="11.3" text-anchor="middle">A11</text>
<text transform="translate(670.51,1425.35) scale(0.73,1)" fill="#6a0000" font-size="11.3" text-anchor="middle">A12</text>
<text transform="translate(699.10,1425.35) scale(0.73,1)" fill="#6a0000" font-size="11.3" text-anchor="middle">A13</text>
<rect x="1077.60" y="1134.00" width="28.70" height="28.52" fill="#00ffff" stroke="#000" stroke-width="2" stroke-linejoin="round"/>
<rect x="1077.60" y="1162.52" width="28.70" height="28.52" fill="#00ffff" stroke="#000" stroke-width="2" stroke-linejoin="round"/>
<rect x="1077.60" y="1191.04" width="28.70" height="28.52" fill="#00ffff" stroke="#000" stroke-width="2" stroke-linejoin="round"/>
<rect x="1077.60" y="1219.56" width="28.70" height="28.52" fill="#00ffff" stroke="#000" stroke-width="2" stroke-linejoin="round"/>
<rect x="1077.60" y="1248.08" width="28.70" height="28.52" fill="#00ffff" stroke="#000" stroke-width="2" stroke-linejoin="round"/>
<rect x="1077.60" y="1276.60" width="28.70" height="28.52" fill="#00ffff" stroke="#000" stroke-width="2" stroke-linejoin="round"/>
<rect x="1077.60" y="1305.12" width="28.70" height="28.52" fill="#00ffff" stroke="#000" stroke-width="2" stroke-linejoin="round"/>
<rect x="1077.60" y="1333.64" width="28.70" height="28.52" fill="#00ffff" stroke="#000" stroke-width="2" stroke-linejoin="round"/>
<rect x="1077.60" y="1362.16" width="28.70" height="28.52" fill="#00ffff" stroke="#000" stroke-width="2" stroke-linejoin="round"/>
<rect x="1077.60" y="1390.68" width="28.70" height="28.52" fill="#00ffff" stroke="#000" stroke-width="2" stroke-linejoin="round"/>
<text transform="translate(1091.95,1152.96) scale(0.73,1)" fill="#004e4e" font-size="11.3" text-anchor="middle">B20</text>
<text transform="translate(1091.95,1181.48) scale(0.73,1)" fill="#004e4e" font-size="11.3" text-anchor="middle">B19</text>
<text transform="translate(1091.95,1210.00) scale(0.73,1)" fill="#004e4e" font-size="11.3" text-anchor="middle">B18</text>
<text transform="translate(1091.95,1238.52) scale(0.73,1)" fill="#004e4e" font-size="11.3" text-anchor="middle">B17</text>
<text transform="translate(1091.95,1267.04) scale(0.73,1)" fill="#004e4e" font-size="11.3" text-anchor="middle">B16</text>
<text transform="translate(1091.95,1295.56) scale(0.73,1)" fill="#004e4e" font-size="11.3" text-anchor="middle">B15</text>
<text transform="translate(1091.95,1324.08) scale(0.73,1)" fill="#004e4e" font-size="11.3" text-anchor="middle">B14</text>
<text transform="translate(1091.95,1352.60) scale(0.73,1)" fill="#004e4e" font-size="11.3" text-anchor="middle">B13</text>
<text transform="translate(1091.95,1381.12) scale(0.73,1)" fill="#004e4e" font-size="11.3" text-anchor="middle">B12</text>
<text transform="translate(1091.95,1409.64) scale(0.73,1)" fill="#004e4e" font-size="11.3" text-anchor="middle">B11</text>
<rect x="1115.10" y="1406.60" width="28.61" height="28.70" fill="#00ffff" stroke="#000" stroke-width="2" stroke-linejoin="round"/>
<rect x="1143.71" y="1406.60" width="28.61" height="28.70" fill="#00ffff" stroke="#000" stroke-width="2" stroke-linejoin="round"/>
<rect x="1172.32" y="1406.60" width="28.61" height="28.70" fill="#00ffff" stroke="#000" stroke-width="2" stroke-linejoin="round"/>
<rect x="1200.93" y="1406.60" width="28.61" height="28.70" fill="#00ffff" stroke="#000" stroke-width="2" stroke-linejoin="round"/>
<rect x="1229.54" y="1406.60" width="28.61" height="28.70" fill="#00ffff" stroke="#000" stroke-width="2" stroke-linejoin="round"/>
<rect x="1258.15" y="1406.60" width="28.61" height="28.70" fill="#00ffff" stroke="#000" stroke-width="2" stroke-linejoin="round"/>
<rect x="1286.76" y="1406.60" width="28.61" height="28.70" fill="#00ffff" stroke="#000" stroke-width="2" stroke-linejoin="round"/>
<rect x="1315.37" y="1406.60" width="28.61" height="28.70" fill="#00ffff" stroke="#000" stroke-width="2" stroke-linejoin="round"/>
<rect x="1343.98" y="1406.60" width="28.61" height="28.70" fill="#00ffff" stroke="#000" stroke-width="2" stroke-linejoin="round"/>
<rect x="1372.59" y="1406.60" width="28.61" height="28.70" fill="#00ffff" stroke="#000" stroke-width="2" stroke-linejoin="round"/>
<text transform="translate(1129.40,1425.65) scale(0.73,1)" fill="#004e4e" font-size="11.3" text-anchor="middle">B1</text>
<text transform="translate(1158.02,1425.65) scale(0.73,1)" fill="#004e4e" font-size="11.3" text-anchor="middle">B2</text>
<text transform="translate(1186.62,1425.65) scale(0.73,1)" fill="#004e4e" font-size="11.3" text-anchor="middle">B3</text>
<text transform="translate(1215.23,1425.65) scale(0.73,1)" fill="#004e4e" font-size="11.3" text-anchor="middle">B4</text>
<text transform="translate(1243.85,1425.65) scale(0.73,1)" fill="#004e4e" font-size="11.3" text-anchor="middle">B5</text>
<text transform="translate(1272.46,1425.65) scale(0.73,1)" fill="#004e4e" font-size="11.3" text-anchor="middle">B6</text>
<text transform="translate(1301.07,1425.65) scale(0.73,1)" fill="#004e4e" font-size="11.3" text-anchor="middle">B7</text>
<text transform="translate(1329.67,1425.65) scale(0.73,1)" fill="#004e4e" font-size="11.3" text-anchor="middle">B8</text>
<text transform="translate(1358.29,1425.65) scale(0.73,1)" fill="#004e4e" font-size="11.3" text-anchor="middle">B9</text>
<text transform="translate(1386.90,1425.65) scale(0.73,1)" fill="#004e4e" font-size="11.3" text-anchor="middle">B10</text>
<rect x="535.50" y="1700.00" width="28.54" height="28.50" fill="#ff00ff" stroke="#000" stroke-width="2" stroke-linejoin="round"/>
<rect x="564.04" y="1700.00" width="28.54" height="28.50" fill="#ff00ff" stroke="#000" stroke-width="2" stroke-linejoin="round"/>
<rect x="592.57" y="1700.00" width="28.54" height="28.50" fill="#ff00ff" stroke="#000" stroke-width="2" stroke-linejoin="round"/>
<rect x="621.11" y="1700.00" width="28.54" height="28.50" fill="#ff00ff" stroke="#000" stroke-width="2" stroke-linejoin="round"/>
<rect x="649.65" y="1700.00" width="28.54" height="28.50" fill="#ff00ff" stroke="#000" stroke-width="2" stroke-linejoin="round"/>
<rect x="678.19" y="1700.00" width="28.54" height="28.50" fill="#ff00ff" stroke="#000" stroke-width="2" stroke-linejoin="round"/>
<rect x="706.72" y="1700.00" width="28.54" height="28.50" fill="#ff00ff" stroke="#000" stroke-width="2" stroke-linejoin="round"/>
<rect x="735.26" y="1700.00" width="28.54" height="28.50" fill="#ff00ff" stroke="#000" stroke-width="2" stroke-linejoin="round"/>
<rect x="763.80" y="1700.00" width="28.54" height="28.50" fill="#ff00ff" stroke="#000" stroke-width="2" stroke-linejoin="round"/>
<rect x="792.33" y="1700.00" width="28.54" height="28.50" fill="#ff00ff" stroke="#000" stroke-width="2" stroke-linejoin="round"/>
<rect x="820.87" y="1700.00" width="28.54" height="28.50" fill="#ff00ff" stroke="#000" stroke-width="2" stroke-linejoin="round"/>
<rect x="849.41" y="1700.00" width="28.54" height="28.50" fill="#ff00ff" stroke="#000" stroke-width="2" stroke-linejoin="round"/>
<rect x="877.94" y="1700.00" width="28.54" height="28.50" fill="#ff00ff" stroke="#000" stroke-width="2" stroke-linejoin="round"/>
<rect x="906.48" y="1700.00" width="28.54" height="28.50" fill="#ff00ff" stroke="#000" stroke-width="2" stroke-linejoin="round"/>
<rect x="935.02" y="1700.00" width="28.54" height="28.50" fill="#ff00ff" stroke="#000" stroke-width="2" stroke-linejoin="round"/>
<rect x="963.56" y="1700.00" width="28.54" height="28.50" fill="#ff00ff" stroke="#000" stroke-width="2" stroke-linejoin="round"/>
<rect x="992.09" y="1700.00" width="28.54" height="28.50" fill="#ff00ff" stroke="#000" stroke-width="2" stroke-linejoin="round"/>
<rect x="1020.63" y="1700.00" width="28.54" height="28.50" fill="#ff00ff" stroke="#000" stroke-width="2" stroke-linejoin="round"/>
<rect x="1049.17" y="1700.00" width="28.54" height="28.50" fill="#ff00ff" stroke="#000" stroke-width="2" stroke-linejoin="round"/>
<rect x="1077.70" y="1700.00" width="28.54" height="28.50" fill="#ff00ff" stroke="#000" stroke-width="2" stroke-linejoin="round"/>
<rect x="1106.24" y="1700.00" width="28.54" height="28.50" fill="#ff00ff" stroke="#000" stroke-width="2" stroke-linejoin="round"/>
<rect x="1134.78" y="1700.00" width="28.54" height="28.50" fill="#ff00ff" stroke="#000" stroke-width="2" stroke-linejoin="round"/>
<rect x="1163.31" y="1700.00" width="28.54" height="28.50" fill="#ff00ff" stroke="#000" stroke-width="2" stroke-linejoin="round"/>
<rect x="1191.85" y="1700.00" width="28.54" height="28.50" fill="#ff00ff" stroke="#000" stroke-width="2" stroke-linejoin="round"/>
<rect x="1220.39" y="1700.00" width="28.54" height="28.50" fill="#ff00ff" stroke="#000" stroke-width="2" stroke-linejoin="round"/>
<rect x="1248.93" y="1700.00" width="28.54" height="28.50" fill="#ff00ff" stroke="#000" stroke-width="2" stroke-linejoin="round"/>
<rect x="1277.46" y="1700.00" width="28.54" height="28.50" fill="#ff00ff" stroke="#000" stroke-width="2" stroke-linejoin="round"/>
<text transform="translate(549.77,1718.95) scale(0.73,1)" fill="#660066" font-size="11.3" text-anchor="middle">C1</text>
<text transform="translate(578.31,1718.95) scale(0.73,1)" fill="#660066" font-size="11.3" text-anchor="middle">C2</text>
<text transform="translate(606.84,1718.95) scale(0.73,1)" fill="#660066" font-size="11.3" text-anchor="middle">C3</text>
<text transform="translate(635.38,1718.95) scale(0.73,1)" fill="#660066" font-size="11.3" text-anchor="middle">C4</text>
<text transform="translate(663.92,1718.95) scale(0.73,1)" fill="#660066" font-size="11.3" text-anchor="middle">C5</text>
<text transform="translate(692.45,1718.95) scale(0.73,1)" fill="#660066" font-size="11.3" text-anchor="middle">C6</text>
<text transform="translate(720.99,1718.95) scale(0.73,1)" fill="#660066" font-size="11.3" text-anchor="middle">C7</text>
<text transform="translate(749.53,1718.95) scale(0.73,1)" fill="#660066" font-size="11.3" text-anchor="middle">C8</text>
<text transform="translate(778.06,1718.95) scale(0.73,1)" fill="#660066" font-size="11.3" text-anchor="middle">C9</text>
<text transform="translate(806.60,1718.95) scale(0.73,1)" fill="#660066" font-size="11.3" text-anchor="middle">C10</text>
<text transform="translate(835.14,1718.95) scale(0.73,1)" fill="#660066" font-size="11.3" text-anchor="middle">C11</text>
<text transform="translate(863.68,1718.95) scale(0.73,1)" fill="#660066" font-size="11.3" text-anchor="middle">C12</text>
<text transform="translate(892.21,1718.95) scale(0.73,1)" fill="#660066" font-size="11.3" text-anchor="middle">C13</text>
<text transform="translate(920.75,1718.95) scale(0.73,1)" fill="#660066" font-size="11.3" text-anchor="middle">C14</text>
<text transform="translate(949.29,1718.95) scale(0.73,1)" fill="#660066" font-size="11.3" text-anchor="middle">C15</text>
<text transform="translate(977.82,1718.95) scale(0.73,1)" fill="#660066" font-size="11.3" text-anchor="middle">C16</text>
<text transform="translate(1006.36,1718.95) scale(0.73,1)" fill="#660066" font-size="11.3" text-anchor="middle">C17</text>
<text transform="translate(1034.90,1718.95) scale(0.73,1)" fill="#660066" font-size="11.3" text-anchor="middle">C18</text>
<text transform="translate(1063.44,1718.95) scale(0.73,1)" fill="#660066" font-size="11.3" text-anchor="middle">C19</text>
<text transform="translate(1091.97,1718.95) scale(0.73,1)" fill="#660066" font-size="11.3" text-anchor="middle">C20</text>
<text transform="translate(1120.51,1718.95) scale(0.73,1)" fill="#660066" font-size="11.3" text-anchor="middle">C21</text>
<text transform="translate(1149.05,1718.95) scale(0.73,1)" fill="#660066" font-size="11.3" text-anchor="middle">C22</text>
<text transform="translate(1177.58,1718.95) scale(0.73,1)" fill="#660066" font-size="11.3" text-anchor="middle">C23</text>
<text transform="translate(1206.12,1718.95) scale(0.73,1)" fill="#660066" font-size="11.3" text-anchor="middle">C24</text>
<text transform="translate(1234.66,1718.95) scale(0.73,1)" fill="#660066" font-size="11.3" text-anchor="middle">C25</text>
<text transform="translate(1263.19,1718.95) scale(0.73,1)" fill="#660066" font-size="11.3" text-anchor="middle">C26</text>
<text transform="translate(1291.73,1718.95) scale(0.73,1)" fill="#660066" font-size="11.3" text-anchor="middle">C27</text>
<rect x="32.90" y="1914.60" width="28.52" height="28.40" fill="#00ff00" stroke="#000" stroke-width="2" stroke-linejoin="round"/>
<rect x="61.42" y="1914.60" width="28.52" height="28.40" fill="#00ff00" stroke="#000" stroke-width="2" stroke-linejoin="round"/>
<rect x="89.94" y="1914.60" width="28.52" height="28.40" fill="#00ff00" stroke="#000" stroke-width="2" stroke-linejoin="round"/>
<rect x="118.47" y="1914.60" width="28.52" height="28.40" fill="#00ff00" stroke="#000" stroke-width="2" stroke-linejoin="round"/>
<rect x="146.99" y="1914.60" width="28.52" height="28.40" fill="#00ff00" stroke="#000" stroke-width="2" stroke-linejoin="round"/>
<rect x="175.51" y="1914.60" width="28.52" height="28.40" fill="#00ff00" stroke="#000" stroke-width="2" stroke-linejoin="round"/>
<rect x="204.03" y="1914.60" width="28.52" height="28.40" fill="#00ff00" stroke="#000" stroke-width="2" stroke-linejoin="round"/>
<rect x="232.55" y="1914.60" width="28.52" height="28.40" fill="#00ff00" stroke="#000" stroke-width="2" stroke-linejoin="round"/>
<rect x="261.08" y="1914.60" width="28.52" height="28.40" fill="#00ff00" stroke="#000" stroke-width="2" stroke-linejoin="round"/>
<rect x="289.60" y="1914.60" width="28.52" height="28.40" fill="#00ff00" stroke="#000" stroke-width="2" stroke-linejoin="round"/>
<rect x="318.12" y="1914.60" width="28.52" height="28.40" fill="#00ff00" stroke="#000" stroke-width="2" stroke-linejoin="round"/>
<rect x="346.64" y="1914.60" width="28.52" height="28.40" fill="#00ff00" stroke="#000" stroke-width="2" stroke-linejoin="round"/>
<rect x="375.16" y="1914.60" width="28.52" height="28.40" fill="#00ff00" stroke="#000" stroke-width="2" stroke-linejoin="round"/>
<rect x="403.69" y="1914.60" width="28.52" height="28.40" fill="#00ff00" stroke="#000" stroke-width="2" stroke-linejoin="round"/>
<rect x="432.21" y="1914.60" width="28.52" height="28.40" fill="#00ff00" stroke="#000" stroke-width="2" stroke-linejoin="round"/>
<rect x="460.73" y="1914.60" width="28.52" height="28.40" fill="#00ff00" stroke="#000" stroke-width="2" stroke-linejoin="round"/>
<rect x="489.25" y="1914.60" width="28.52" height="28.40" fill="#00ff00" stroke="#000" stroke-width="2" stroke-linejoin="round"/>
<rect x="517.77" y="1914.60" width="28.52" height="28.40" fill="#00ff00" stroke="#000" stroke-width="2" stroke-linejoin="round"/>
<rect x="546.30" y="1914.60" width="28.52" height="28.40" fill="#00ff00" stroke="#000" stroke-width="2" stroke-linejoin="round"/>
<rect x="574.82" y="1914.60" width="28.52" height="28.40" fill="#00ff00" stroke="#000" stroke-width="2" stroke-linejoin="round"/>
<rect x="603.34" y="1914.60" width="28.52" height="28.40" fill="#00ff00" stroke="#000" stroke-width="2" stroke-linejoin="round"/>
<rect x="631.86" y="1914.60" width="28.52" height="28.40" fill="#00ff00" stroke="#000" stroke-width="2" stroke-linejoin="round"/>
<rect x="660.38" y="1914.60" width="28.52" height="28.40" fill="#00ff00" stroke="#000" stroke-width="2" stroke-linejoin="round"/>
<rect x="688.91" y="1914.60" width="28.52" height="28.40" fill="#00ff00" stroke="#000" stroke-width="2" stroke-linejoin="round"/>
<rect x="717.43" y="1914.60" width="28.52" height="28.40" fill="#00ff00" stroke="#000" stroke-width="2" stroke-linejoin="round"/>
<rect x="745.95" y="1914.60" width="28.52" height="28.40" fill="#00ff00" stroke="#000" stroke-width="2" stroke-linejoin="round"/>
<rect x="774.47" y="1914.60" width="28.52" height="28.40" fill="#00ff00" stroke="#000" stroke-width="2" stroke-linejoin="round"/>
<rect x="802.99" y="1914.60" width="28.52" height="28.40" fill="#00ff00" stroke="#000" stroke-width="2" stroke-linejoin="round"/>
<rect x="831.52" y="1914.60" width="28.52" height="28.40" fill="#00ff00" stroke="#000" stroke-width="2" stroke-linejoin="round"/>
<rect x="860.04" y="1914.60" width="28.52" height="28.40" fill="#00ff00" stroke="#000" stroke-width="2" stroke-linejoin="round"/>
<rect x="888.56" y="1914.60" width="28.52" height="28.40" fill="#00ff00" stroke="#000" stroke-width="2" stroke-linejoin="round"/>
<rect x="917.08" y="1914.60" width="28.52" height="28.40" fill="#00ff00" stroke="#000" stroke-width="2" stroke-linejoin="round"/>
<rect x="945.60" y="1914.60" width="28.52" height="28.40" fill="#00ff00" stroke="#000" stroke-width="2" stroke-linejoin="round"/>
<rect x="974.13" y="1914.60" width="28.52" height="28.40" fill="#00ff00" stroke="#000" stroke-width="2" stroke-linejoin="round"/>
<rect x="1002.65" y="1914.60" width="28.52" height="28.40" fill="#00ff00" stroke="#000" stroke-width="2" stroke-linejoin="round"/>
<rect x="1031.17" y="1914.60" width="28.52" height="28.40" fill="#00ff00" stroke="#000" stroke-width="2" stroke-linejoin="round"/>
<rect x="1059.69" y="1914.60" width="28.52" height="28.40" fill="#00ff00" stroke="#000" stroke-width="2" stroke-linejoin="round"/>
<rect x="1088.21" y="1914.60" width="28.52" height="28.40" fill="#00ff00" stroke="#000" stroke-width="2" stroke-linejoin="round"/>
<rect x="1116.74" y="1914.60" width="28.52" height="28.40" fill="#00ff00" stroke="#000" stroke-width="2" stroke-linejoin="round"/>
<rect x="1145.26" y="1914.60" width="28.52" height="28.40" fill="#00ff00" stroke="#000" stroke-width="2" stroke-linejoin="round"/>
<rect x="1173.78" y="1914.60" width="28.52" height="28.40" fill="#00ff00" stroke="#000" stroke-width="2" stroke-linejoin="round"/>
<rect x="1202.30" y="1914.60" width="28.52" height="28.40" fill="#00ff00" stroke="#000" stroke-width="2" stroke-linejoin="round"/>
<rect x="1230.82" y="1914.60" width="28.52" height="28.40" fill="#00ff00" stroke="#000" stroke-width="2" stroke-linejoin="round"/>
<rect x="1259.35" y="1914.60" width="28.52" height="28.40" fill="#00ff00" stroke="#000" stroke-width="2" stroke-linejoin="round"/>
<rect x="1287.87" y="1914.60" width="28.52" height="28.40" fill="#00ff00" stroke="#000" stroke-width="2" stroke-linejoin="round"/>
<rect x="1316.39" y="1914.60" width="28.52" height="28.40" fill="#00ff00" stroke="#000" stroke-width="2" stroke-linejoin="round"/>
<rect x="1344.91" y="1914.60" width="28.52" height="28.40" fill="#00ff00" stroke="#000" stroke-width="2" stroke-linejoin="round"/>
<rect x="1373.43" y="1914.60" width="28.52" height="28.40" fill="#00ff00" stroke="#000" stroke-width="2" stroke-linejoin="round"/>
<rect x="1401.96" y="1914.60" width="28.52" height="28.40" fill="#00ff00" stroke="#000" stroke-width="2" stroke-linejoin="round"/>
<rect x="1430.48" y="1914.60" width="28.52" height="28.40" fill="#00ff00" stroke="#000" stroke-width="2" stroke-linejoin="round"/>
<text transform="translate(47.16,1933.50) scale(0.73,1)" fill="#004400" font-size="11.3" text-anchor="middle">D51</text>
<text transform="translate(75.68,1933.50) scale(0.73,1)" fill="#004400" font-size="11.3" text-anchor="middle">D52</text>
<text transform="translate(104.20,1933.50) scale(0.73,1)" fill="#004400" font-size="11.3" text-anchor="middle">D53</text>
<text transform="translate(132.73,1933.50) scale(0.73,1)" fill="#004400" font-size="11.3" text-anchor="middle">D54</text>
<text transform="translate(161.25,1933.50) scale(0.73,1)" fill="#004400" font-size="11.3" text-anchor="middle">D55</text>
<text transform="translate(189.77,1933.50) scale(0.73,1)" fill="#004400" font-size="11.3" text-anchor="middle">D56</text>
<text transform="translate(218.29,1933.50) scale(0.73,1)" fill="#004400" font-size="11.3" text-anchor="middle">D57</text>
<text transform="translate(246.81,1933.50) scale(0.73,1)" fill="#004400" font-size="11.3" text-anchor="middle">D58</text>
<text transform="translate(275.34,1933.50) scale(0.73,1)" fill="#004400" font-size="11.3" text-anchor="middle">D59</text>
<text transform="translate(303.86,1933.50) scale(0.73,1)" fill="#004400" font-size="11.3" text-anchor="middle">D60</text>
<text transform="translate(332.38,1933.50) scale(0.73,1)" fill="#004400" font-size="11.3" text-anchor="middle">D61</text>
<text transform="translate(360.90,1933.50) scale(0.73,1)" fill="#004400" font-size="11.3" text-anchor="middle">D62</text>
<text transform="translate(389.43,1933.50) scale(0.73,1)" fill="#004400" font-size="11.3" text-anchor="middle">D63</text>
<text transform="translate(417.95,1933.50) scale(0.73,1)" fill="#004400" font-size="11.3" text-anchor="middle">D64</text>
<text transform="translate(446.47,1933.50) scale(0.73,1)" fill="#004400" font-size="11.3" text-anchor="middle">D65</text>
<text transform="translate(474.99,1933.50) scale(0.73,1)" fill="#004400" font-size="11.3" text-anchor="middle">D66</text>
<text transform="translate(503.51,1933.50) scale(0.73,1)" fill="#004400" font-size="11.3" text-anchor="middle">D67</text>
<text transform="translate(532.03,1933.50) scale(0.73,1)" fill="#004400" font-size="11.3" text-anchor="middle">D68</text>
<text transform="translate(560.56,1933.50) scale(0.73,1)" fill="#004400" font-size="11.3" text-anchor="middle">D69</text>
<text transform="translate(589.08,1933.50) scale(0.73,1)" fill="#004400" font-size="11.3" text-anchor="middle">D70</text>
<text transform="translate(617.60,1933.50) scale(0.73,1)" fill="#004400" font-size="11.3" text-anchor="middle">D71</text>
<text transform="translate(646.12,1933.50) scale(0.73,1)" fill="#004400" font-size="11.3" text-anchor="middle">D72</text>
<text transform="translate(674.64,1933.50) scale(0.73,1)" fill="#004400" font-size="11.3" text-anchor="middle">D73</text>
<text transform="translate(703.17,1933.50) scale(0.73,1)" fill="#004400" font-size="11.3" text-anchor="middle">D74</text>
<text transform="translate(731.69,1933.50) scale(0.73,1)" fill="#004400" font-size="11.3" text-anchor="middle">D75</text>
<text transform="translate(760.21,1933.50) scale(0.73,1)" fill="#004400" font-size="11.3" text-anchor="middle">D76</text>
<text transform="translate(788.73,1933.50) scale(0.73,1)" fill="#004400" font-size="11.3" text-anchor="middle">D77</text>
<text transform="translate(817.25,1933.50) scale(0.73,1)" fill="#004400" font-size="11.3" text-anchor="middle">D78</text>
<text transform="translate(845.78,1933.50) scale(0.73,1)" fill="#004400" font-size="11.3" text-anchor="middle">D79</text>
<text transform="translate(874.30,1933.50) scale(0.73,1)" fill="#004400" font-size="11.3" text-anchor="middle">D80</text>
<text transform="translate(902.82,1933.50) scale(0.73,1)" fill="#004400" font-size="11.3" text-anchor="middle">D81</text>
<text transform="translate(931.34,1933.50) scale(0.73,1)" fill="#004400" font-size="11.3" text-anchor="middle">D82</text>
<text transform="translate(959.86,1933.50) scale(0.73,1)" fill="#004400" font-size="11.3" text-anchor="middle">D83</text>
<text transform="translate(988.39,1933.50) scale(0.73,1)" fill="#004400" font-size="11.3" text-anchor="middle">D84</text>
<text transform="translate(1016.91,1933.50) scale(0.73,1)" fill="#004400" font-size="11.3" text-anchor="middle">D85</text>
<text transform="translate(1045.43,1933.50) scale(0.73,1)" fill="#004400" font-size="11.3" text-anchor="middle">D86</text>
<text transform="translate(1073.95,1933.50) scale(0.73,1)" fill="#004400" font-size="11.3" text-anchor="middle">D87</text>
<text transform="translate(1102.47,1933.50) scale(0.73,1)" fill="#004400" font-size="11.3" text-anchor="middle">D88</text>
<text transform="translate(1131.00,1933.50) scale(0.73,1)" fill="#004400" font-size="11.3" text-anchor="middle">D89</text>
<text transform="translate(1159.52,1933.50) scale(0.73,1)" fill="#004400" font-size="11.3" text-anchor="middle">D90</text>
<text transform="translate(1188.04,1933.50) scale(0.73,1)" fill="#004400" font-size="11.3" text-anchor="middle">D91</text>
<text transform="translate(1216.56,1933.50) scale(0.73,1)" fill="#004400" font-size="11.3" text-anchor="middle">D92</text>
<text transform="translate(1245.09,1933.50) scale(0.73,1)" fill="#004400" font-size="11.3" text-anchor="middle">D93</text>
<text transform="translate(1273.61,1933.50) scale(0.73,1)" fill="#004400" font-size="11.3" text-anchor="middle">D94</text>
<text transform="translate(1302.13,1933.50) scale(0.73,1)" fill="#004400" font-size="11.3" text-anchor="middle">D95</text>
<text transform="translate(1330.65,1933.50) scale(0.73,1)" fill="#004400" font-size="11.3" text-anchor="middle">D96</text>
<text transform="translate(1359.17,1933.50) scale(0.73,1)" fill="#004400" font-size="11.3" text-anchor="middle">D97</text>
<text transform="translate(1387.69,1933.50) scale(0.73,1)" fill="#004400" font-size="11.3" text-anchor="middle">D98</text>
<text transform="translate(1416.22,1933.50) scale(0.73,1)" fill="#004400" font-size="11.3" text-anchor="middle">D99</text>
<text transform="translate(1444.74,1933.50) scale(0.73,1)" fill="#004400" font-size="11.3" text-anchor="middle">D100</text>
<text x="1036.6" y="207.2" font-size="68.2" fill="#000" stroke="#fff" stroke-width="1.09" textLength="333.5" lengthAdjust="spacingAndGlyphs">苏碧怡大楼</text>
<text x="664.0" y="306.5" font-size="39.9" fill="#000" stroke="#fff" stroke-width="0.64" textLength="180.2" lengthAdjust="spacingAndGlyphs">奇石展<tspan stroke="none">E</tspan>区</text>
<text x="609.0" y="439.7" font-size="53.8" fill="#000" stroke="#fff" stroke-width="0.86" textLength="325.7" lengthAdjust="spacingAndGlyphs">吉里于孜大街</text>
<text x="53.5" y="738.0" font-size="25.0" fill="#000" stroke="#fff" stroke-width="0.40" textLength="95.8" lengthAdjust="spacingAndGlyphs">广场绿化</text>
<text x="525.6" y="738.1" font-size="23.4" fill="#000" stroke="#fff" stroke-width="0.37" textLength="95.5" lengthAdjust="spacingAndGlyphs">广场绿化</text>
<text x="866.3" y="1071.7" font-size="53.3" fill="#000" stroke="#fff" stroke-width="0.85" textLength="110.3" lengthAdjust="spacingAndGlyphs">广场</text>
<text x="1200.9" y="803.6" font-size="21.7" fill="#000" stroke="#fff" stroke-width="0.35" textLength="89.0" lengthAdjust="spacingAndGlyphs">广场绿化</text>
<text x="121.6" y="1175.3" font-size="21.2" fill="#000" stroke="#fff" stroke-width="0.34" textLength="88.2" lengthAdjust="spacingAndGlyphs">广场绿化</text>
<text x="95.2" y="1463.6" font-size="55.4" fill="#000" stroke="#fff" stroke-width="0.89" textLength="162.0" lengthAdjust="spacingAndGlyphs">体育馆</text>
<text x="519.7" y="1257.9" font-size="20.1" fill="#000" stroke="#fff" stroke-width="0.32" textLength="87.0" lengthAdjust="spacingAndGlyphs">广场绿化</text>
<text x="446.9" y="1386.5" font-size="38.3" fill="#000" stroke="#fff" stroke-width="0.61" textLength="179.2" lengthAdjust="spacingAndGlyphs">奇石展<tspan stroke="none">A</tspan>区</text>
<text x="1224.7" y="1257.6" font-size="20.7" fill="#000" stroke="#fff" stroke-width="0.33" textLength="88.1" lengthAdjust="spacingAndGlyphs">广场绿化</text>
<text x="1193.6" y="1385.3" font-size="38.3" fill="#000" stroke="#fff" stroke-width="0.61" textLength="179.8" lengthAdjust="spacingAndGlyphs">奇石展<tspan stroke="none">B</tspan>区</text>
<text x="868.7" y="1574.3" font-size="59.2" fill="#000" stroke="#fff" stroke-width="0.95" textLength="120.7" lengthAdjust="spacingAndGlyphs">广场</text>
<text x="487.9" y="1599.3" font-size="21.2" fill="#000" stroke="#fff" stroke-width="0.34" textLength="87.1" lengthAdjust="spacingAndGlyphs">广场绿化</text>
<text x="1255.9" y="1586.3" font-size="21.7" fill="#000" stroke="#fff" stroke-width="0.35" textLength="89.2" lengthAdjust="spacingAndGlyphs">广场绿化</text>
<text x="816.1" y="1809.7" font-size="38.6" fill="#000" stroke="#fff" stroke-width="0.62" textLength="179.5" lengthAdjust="spacingAndGlyphs">奇石展<tspan stroke="none">C</tspan>区</text>
<text x="407.7" y="1847.3" font-size="21.1" fill="#000" stroke="#fff" stroke-width="0.34" textLength="88.0" lengthAdjust="spacingAndGlyphs">广场绿化</text>
<text x="369.6" y="1998.2" font-size="38.5" fill="#000" stroke="#fff" stroke-width="0.62" textLength="179.3" lengthAdjust="spacingAndGlyphs">奇石展<tspan stroke="none">D</tspan>区</text>
<text x="633.3" y="2016.4" font-size="53.5" fill="#000" stroke="#fff" stroke-width="0.86" textLength="163.3" lengthAdjust="spacingAndGlyphs">青年路</text>
<text x="1085.8" y="2263.8" font-size="64.0" fill="#000" stroke="#fff" stroke-width="1.02" textLength="196.4" lengthAdjust="spacingAndGlyphs">派出所</text>
</svg></body></html>
